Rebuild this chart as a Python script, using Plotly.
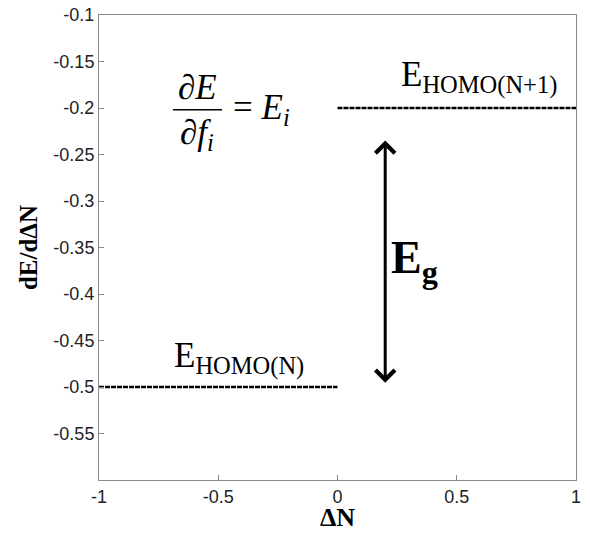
import plotly.graph_objects as go

# Frontier-orbital energy levels on either side of integer electron number
dn_lower = [-1.0, 0.0]
e_lower = [-0.5, -0.5]
dn_upper = [0.0, 1.0]
e_upper = [-0.2, -0.2]

x_ticks = [-1, -0.5, 0, 0.5, 1]
x_tick_text = ["-1", "-0.5", "0", "0.5", "1"]
y_ticks = [-0.1, -0.15, -0.2, -0.25, -0.3, -0.35, -0.4, -0.45, -0.5, -0.55]
y_tick_text = ["-0.1", "-0.15", "-0.2", "-0.25", "-0.3", "-0.35", "-0.4", "-0.45", "-0.5", "-0.55"]

# Gap arrow between the two levels
gap_x = 0.2
gap_top = -0.235
gap_bottom = -0.497

serif = "Liberation Serif"
sans = "Liberation Sans"
level_line = dict(color="black", width=2.5, dash="5px,1px")

fig = go.Figure()
fig.add_trace(go.Scatter(x=dn_lower, y=e_lower, mode="lines", line=level_line,
                         showlegend=False, hoverinfo="skip"))
fig.add_trace(go.Scatter(x=dn_upper, y=e_upper, mode="lines", line=level_line,
                         showlegend=False, hoverinfo="skip"))

annotations = [
    # double-headed gap arrow
    dict(x=gap_x, y=gap_top, ax=gap_x, ay=gap_bottom, xref="x", yref="y",
         axref="x", ayref="y", text="", showarrow=True, arrowside="end+start",
         arrowhead=4, startarrowhead=4, arrowsize=1.25, startarrowsize=1.25,
         arrowwidth=3, arrowcolor="black"),
    dict(x=0.215, y=-0.365, xref="x", yref="y", xanchor="left", yanchor="middle",
         text="<b>E<sub>g</sub></b>", showarrow=False,
         font=dict(family=serif, size=46, color="black")),
    dict(x=0.593, y=-0.167, xref="x", yref="y", xanchor="center", yanchor="middle",
         text="E<sub>HOMO(N+1)</sub>", showarrow=False,
         font=dict(family=serif, size=35, color="black")),
    dict(x=-0.413, y=-0.469, xref="x", yref="y", xanchor="center", yanchor="middle",
         text="E<sub>HOMO(N)</sub>", showarrow=False,
         font=dict(family=serif, size=35, color="black")),
    # dE/df_i = E_i written as a stacked fraction
    dict(x=-0.589, y=-0.178, xref="x", yref="y", xanchor="center", yanchor="middle",
         text="<i>∂E</i>", showarrow=False,
         font=dict(family=serif, size=35, color="black")),
    dict(x=-0.589, y=-0.229, xref="x", yref="y", xanchor="center", yanchor="middle",
         text="<i>∂f<sub>i</sub></i>", showarrow=False,
         font=dict(family=serif, size=35, color="black")),
    dict(x=-0.445, y=-0.202, xref="x", yref="y", xanchor="left", yanchor="middle",
         text="= <i>E<sub>i</sub></i>", showarrow=False,
         font=dict(family=serif, size=35, color="black")),
    # x-axis title
    dict(x=0.5, y=-0.081, xref="paper", yref="paper", xanchor="center", yanchor="middle",
         text="<b>ΔN</b>", showarrow=False, borderpad=0,
         font=dict(family=serif, size=26, color="black")),
]

fig.add_shape(type="line", xref="x", yref="y", x0=-0.690, x1=-0.484, y0=-0.202, y1=-0.202,
              line=dict(color="black", width=1.5))

axis_common = dict(showgrid=False, zeroline=False, showline=True, linecolor="#8a8a8a",
                   linewidth=1, mirror=True, ticks="inside", ticklen=5, tickcolor="#8a8a8a",
                   automargin=False,
                   tickfont=dict(family=sans, size=18, color="#222222"))

fig.update_layout(
    width=590, height=535,
    margin=dict(l=99, r=14, t=15, b=55),
    paper_bgcolor="white", plot_bgcolor="white",
    annotations=annotations,
    xaxis=dict(range=[-1, 1], tickvals=x_ticks, ticktext=x_tick_text, **axis_common),
    yaxis=dict(range=[-0.6, -0.1], tickvals=y_ticks, ticktext=y_tick_text,
               title=dict(text="<b>dE/dΔN</b>", font=dict(family=serif, size=25, color="black"),
                          standoff=8),
               **axis_common),
)

fig.write_html("out.html")
